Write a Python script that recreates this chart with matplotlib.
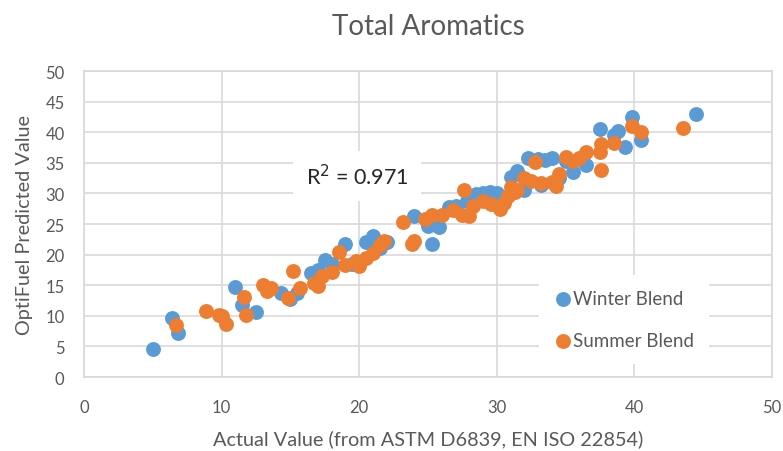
import matplotlib
matplotlib.use("Agg")
import matplotlib.pyplot as plt

plt.rcParams['font.family'] = ['Lato', 'DejaVu Sans']

# Winter blend: actual vs predicted
winter_x = [5.0, 6.4, 6.8, 11.0, 11.5, 12.5, 14.3, 15.0, 15.5, 16.5, 17.0, 17.5,
            18.0, 19.0, 19.5, 20.5, 21.0, 21.5, 22.0, 24.0, 25.0, 25.3, 25.8,
            26.5, 27.0, 27.8, 28.5, 29.0, 29.5, 30.0, 30.3, 31.0, 31.5, 32.0,
            32.3, 33.0, 33.5, 34.0, 33.2, 34.5, 35.0, 35.5, 36.5, 37.5, 38.5,
            38.8, 39.3, 39.8, 40.5, 44.5]
winter_y = [4.5, 9.6, 7.2, 14.7, 11.8, 10.7, 13.8, 12.8, 13.8, 17.0, 17.5, 19.2,
            18.5, 21.7, 18.5, 22.0, 23.0, 21.0, 22.0, 26.3, 24.6, 21.7, 24.5,
            27.7, 28.0, 28.7, 29.9, 30.0, 30.2, 30.0, 28.9, 32.6, 33.7, 30.5,
            35.8, 35.6, 35.4, 35.8, 31.4, 32.5, 35.3, 33.5, 34.7, 40.6, 39.6,
            40.2, 37.6, 42.5, 38.8, 43.0]

# Summer blend: actual vs predicted
summer_x = [6.7, 8.9, 9.8, 10.0, 10.3, 11.6, 11.8, 13.0, 13.3, 13.6, 14.8, 15.2,
            15.7, 16.7, 17.0, 17.3, 18.0, 18.5, 19.0, 19.8, 20.0, 20.5, 21.0,
            21.5, 21.8, 23.2, 23.8, 24.0, 24.8, 25.3, 26.0, 26.8, 27.5, 27.6,
            28.0, 28.3, 29.0, 29.6, 30.2, 30.5, 30.8, 31.0, 31.3, 31.5, 32.0,
            32.5, 32.8, 33.2, 34.0, 34.3, 34.5, 35.0, 35.5, 36.0, 36.5, 37.5,
            37.6, 37.6, 38.5, 39.8, 40.5, 43.5]
summer_y = [8.5, 10.8, 10.2, 10.0, 8.6, 13.0, 10.2, 15.0, 14.1, 14.6, 12.9, 17.4,
            14.5, 15.3, 14.8, 16.5, 17.2, 20.5, 18.3, 19.0, 18.2, 19.5, 20.3,
            21.6, 22.3, 25.3, 21.8, 22.2, 25.8, 26.5, 26.4, 27.3, 26.5, 30.5,
            26.3, 28.0, 28.8, 28.3, 27.5, 28.5, 29.5, 31.0, 30.2, 30.5, 32.5,
            32.0, 35.2, 31.7, 31.9, 31.2, 33.2, 36.0, 35.3, 35.8, 36.8, 36.8,
            38.0, 33.9, 38.3, 41.0, 40.0, 40.7]

r2_label = "R$^2$ = 0.971"
yticks = [0, 5, 10, 15, 20, 25, 30, 35, 40, 45, 50]
xticks = [0, 10, 20, 30, 40, 50]

grid_col = '#D9D9D9'
text_col = '#595959'

fig = plt.figure(figsize=(7.83, 4.52), dpi=100)
ax = fig.add_axes([0.1073, 0.1637, 0.8787, 0.677])

ax.scatter(winter_x, winter_y, s=115, color='#5B9BD5', label='Winter Blend',
           zorder=3, linewidths=0)
ax.scatter(summer_x, summer_y, s=115, color='#ED7D31', label='Summer Blend',
           zorder=4, linewidths=0)

ax.set_xlim(0, 50)
ax.set_ylim(0, 50)
ax.set_xticks(xticks)
ax.set_yticks(yticks)
ax.grid(True, color=grid_col, linewidth=1.2, zorder=0)
ax.set_axisbelow(True)
for sp in ax.spines.values():
    sp.set_color(grid_col)
    sp.set_linewidth(1.2)
ax.tick_params(length=0, colors=text_col, labelsize=12)
ax.tick_params(axis='x', pad=16)
ax.tick_params(axis='y', pad=14)

ax.set_title('Total Aromatics', fontsize=20, color=text_col, pad=27)
ax.set_xlabel('Actual Value (from ASTM D6839, EN ISO 22854)', fontsize=14.3,
              color=text_col, labelpad=10)
ax.set_ylabel('OptiFuel Predicted Value', fontsize=14.3, color=text_col,
              labelpad=9)

ax.text(0.397, 0.657, r2_label, transform=ax.transAxes, fontsize=15.5,
        color='#262626', ha='center', va='center', zorder=5,
        bbox=dict(facecolor='white', edgecolor='none', pad=9))

leg = ax.legend(loc='center', bbox_to_anchor=(0.785, 0.188), frameon=True,
                fontsize=13.5, handletextpad=0.05, labelspacing=1.3,
                borderpad=0.8, handlelength=1.0, markerscale=1.0)
leg.get_frame().set_edgecolor('none')
leg.get_frame().set_facecolor('white')
leg.get_frame().set_alpha(1.0)
for t in leg.get_texts():
    t.set_color(text_col)

fig.savefig('out.png', dpi=100)
